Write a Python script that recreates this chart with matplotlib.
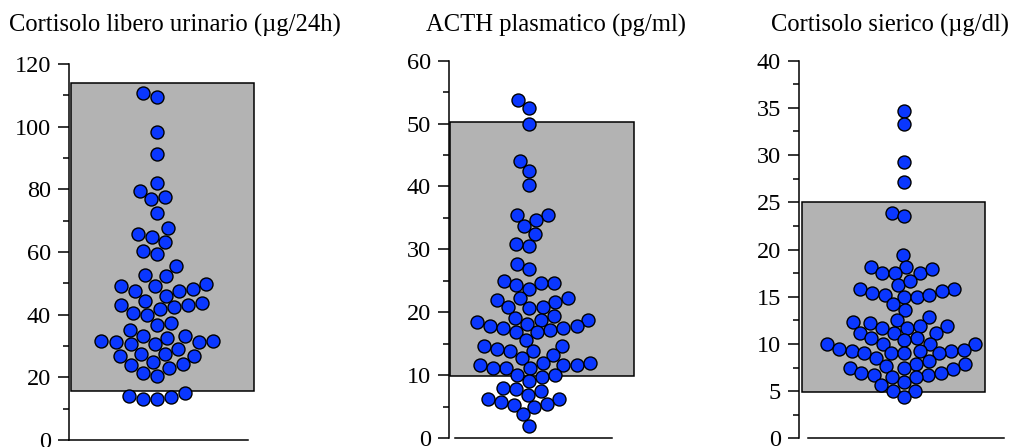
import numpy as np
import matplotlib
matplotlib.use("Agg")
import matplotlib.pyplot as plt
from matplotlib.patches import Rectangle
from matplotlib.ticker import MultipleLocator

plt.rcParams['font.family'] = ['Liberation Serif', 'DejaVu Serif']

# ---------------- data ----------------
titles = ["Cortisolo libero urinario (\u00b5g/24h)",
          "ACTH plasmatico (pg/ml)",
          "Cortisolo sierico (\u00b5g/dl)"]

ufc = [109.6, 110.9, 98.2, 91.3, 81.9, 79.6, 77.6, 76.8, 72.6, 67.6, 65.6, 64.9,
       63.1, 60.4, 59.4, 55.6, 52.6, 52.4, 49.3, 49.9, 49.3, 47.7, 47.6, 48.1,
       46.1, 44.4, 43.7, 43.0, 41.9, 42.4, 43.0, 40.6, 39.9, 36.6, 37.4, 35.1,
       31.2, 33.1, 33.1, 31.7, 31.7, 32.6, 31.2, 30.5, 30.5, 29.1, 27.4, 27.4,
       26.9, 26.9, 24.3, 24.9, 23.0, 23.8, 21.3, 20.5, 13.0, 14.9, 13.0, 14.1, 13.7]

acth = [53.7, 52.5, 49.9, 44.0, 42.5, 40.2, 35.5, 35.5, 33.7, 34.6, 32.5, 30.6,
        30.9, 27.7, 26.8, 24.7, 24.7, 25.0, 24.4, 23.7, 21.9, 21.6, 22.2, 22.2,
        20.9, 20.7, 20.9, 19.1, 18.8, 19.4, 18.8, 18.4, 17.8, 17.8, 18.2, 17.2,
        16.8, 17.5, 17.5, 16.9, 15.6, 14.7, 14.7, 13.8, 14.1, 13.8, 13.2, 12.8,
        11.6, 11.2, 11.6, 11.6, 11.9, 11.2, 11.2, 11.9, 9.7, 10.0, 10.0, 9.1,
        7.9, 7.8, 7.5, 6.2, 6.9, 6.2, 5.4, 5.0, 5.7, 5.3, 3.8, 1.9]

cortisol = [34.7, 33.3, 29.3, 27.2, 23.9, 23.5, 19.4, 18.1, 17.5, 17.9, 18.1, 17.5,
            17.5, 15.8, 16.2, 16.7, 15.8, 15.6, 15.0, 15.0, 15.4, 15.2, 15.2, 14.2,
            13.6, 12.3, 12.2, 12.5, 12.9, 11.9, 11.7, 11.7, 11.9, 11.2, 11.2, 11.2,
            10.6, 10.4, 10.6, 10.0, 10.0, 10.0, 10.0, 9.2, 9.2, 9.0, 8.5, 9.0,
            9.2, 9.5, 9.4, 9.0, 9.0, 7.9, 7.5, 7.7, 7.3, 7.9, 8.2, 7.5,
            6.0, 6.7, 6.9, 6.9, 6.7, 6.5, 6.5, 5.6, 5.0, 5.0, 4.4]

ref_low = [15.7, 9.9, 4.9]
ref_high = [113.8, 50.3, 25.0]
y_max = [120, 60, 40]
major_step = [20, 10, 5]
minor_step = [10, 5, 2.5]

series = [ufc, acth, cortisol]

# ---------------- layout (figure pixels, from top-left) ----------------
W, H = 1013, 447
layout = [
    dict(l=69, r=248, y0=440, yt=64, sp=69, bl=70.7, bh=254, c=157, tc=175, sw=1.1),
    dict(l=449, r=612, y0=438, yt=60.7, sp=455, bl=450, bh=634, c=529, tc=556, sw=1.02),
    dict(l=799, r=1004, y0=438.3, yt=60.7, sp=808, bl=802, bh=985, c=904, tc=890, sw=0.98),
]

fig = plt.figure(figsize=(W / 100, H / 100), dpi=100)

marker_d_px = 13.0
marker_pt = marker_d_px * 72 / 100


def swarm_offsets(ypx, d):
    """Simple beeswarm placement in pixel space."""
    order = np.argsort(ypx)
    placed_x, placed_y = [], []
    out = np.zeros(len(ypx))
    for i in order:
        y = ypx[i]
        cands = [0.0]
        for px, py in zip(placed_x, placed_y):
            dy = abs(py - y)
            if dy < d:
                dx = np.sqrt(d * d - dy * dy)
                cands += [px + dx, px - dx]
        cands = sorted(cands, key=lambda v: (abs(v), v))
        for cx in cands:
            ok = True
            for px, py in zip(placed_x, placed_y):
                if (px - cx) ** 2 + (py - y) ** 2 < d * d - 1e-6:
                    ok = False
                    break
            if ok:
                out[i] = cx
                placed_x.append(cx)
                placed_y.append(y)
                break
    return out


lw = 1.1
for k in range(3):
    L = layout[k]
    ax = fig.add_axes([L['l'] / W, (H - L['y0']) / H,
                       (L['r'] - L['l']) / W, (L['y0'] - L['yt']) / H])
    ax.set_xlim(L['l'], L['r'])
    ax.set_ylim(0, y_max[k])
    ax.patch.set_alpha(0)
    for s in ['top', 'right']:
        ax.spines[s].set_visible(False)
    ax.spines['left'].set_linewidth(lw)
    ax.spines['bottom'].set_linewidth(lw)
    ax.spines['bottom'].set_bounds(L['sp'], L['r'])
    ax.set_xticks([])
    ax.yaxis.set_major_locator(MultipleLocator(major_step[k]))
    ax.yaxis.set_minor_locator(MultipleLocator(minor_step[k]))
    ax.tick_params(axis='y', which='major', direction='out', length=8, width=lw,
                   labelsize=17.5, pad=5)
    ax.tick_params(axis='y', which='minor', direction='out', length=4, width=lw)

    ax.add_patch(Rectangle((L['bl'], ref_low[k]), L['bh'] - L['bl'],
                           ref_high[k] - ref_low[k], facecolor='#b3b3b3',
                           edgecolor='black', linewidth=lw, clip_on=False, zorder=1))

    vals = np.asarray(series[k], dtype=float)
    px_per_unit = (L['y0'] - L['yt']) / y_max[k]
    ypx = vals * px_per_unit
    offs = swarm_offsets(ypx, marker_d_px * L['sw'])
    xs = L['c'] + offs
    ax.scatter(xs, vals, s=marker_pt ** 2, facecolor='#0a37ff', edgecolor='black',
               linewidths=1.0, zorder=3, clip_on=False)

# titles
texts = []
for k in range(3):
    t = fig.text(layout[k]['tc'] / W, (H - 32) / H, titles[k], ha='center',
                 va='baseline', fontsize=18, color='black')
    texts.append(t)
renderer = fig.canvas.get_renderer()
w0 = texts[0].get_window_extent(renderer).width
fs = 18 * 333 / w0
for t in texts:
    t.set_fontsize(fs)

fig.savefig("out.png", dpi=100)
